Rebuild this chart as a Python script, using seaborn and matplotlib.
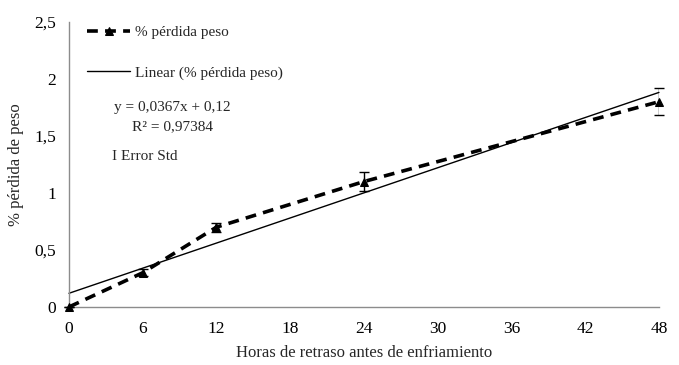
import matplotlib
matplotlib.use("Agg")
import matplotlib.pyplot as plt
import seaborn as sns
import numpy as np
import pandas as pd

hours = [0, 6, 12, 24, 48]
loss = [0.0, 0.30, 0.70, 1.10, 1.80]
err = [0.0, 0.03, 0.04, 0.08, 0.12]
slope, intercept = 0.0367, 0.12
trend_x = [0, 48]
xticks = [0, 6, 12, 18, 24, 30, 36, 42, 48]
yticks = [0, 0.5, 1, 1.5, 2, 2.5]
ytick_labels = ["0", "0,5", "1", "1,5", "2", "2,5"]

sns.set_theme(style="white")
plt.rcParams['font.family'] = ['Liberation Serif', 'DejaVu Serif']

fig = plt.figure(figsize=(6.79, 3.65), dpi=100)
ax = fig.add_axes([0.1016, 0.159, 0.8689, 0.781])

df = pd.DataFrame({"h": hours, "p": loss})
tr = pd.DataFrame({"h": trend_x, "p": [slope * x + intercept for x in trend_x]})

sns.lineplot(data=tr, x="h", y="p", ax=ax, color="black", lw=1.0,
             label="Linear (% pérdida peso)", zorder=2)
sns.lineplot(data=df, x="h", y="p", ax=ax, color="black", lw=2.6,
             linestyle=(0, (3, 2)), marker="^", markersize=6,
             markeredgecolor="black", label="% pérdida peso", zorder=3)
ax.errorbar(hours, loss, yerr=err, fmt="none", ecolor="black",
            elinewidth=1.0, capsize=3.5, capthick=1.0, zorder=4)

ax.set_xlim(0, 48)
ax.set_ylim(0, 2.5)
ax.set_xticks(xticks)
ax.set_xticklabels([str(x) for x in xticks], fontsize=12.5)
ax.set_yticks(yticks)
ax.set_yticklabels(ytick_labels, fontsize=12.5)
ax.set_xlabel("Horas de retraso antes de enfriamiento", fontsize=12, labelpad=6)
ax.set_ylabel("% pérdida de peso", fontsize=12, labelpad=8)

for s in ["top", "right"]:
    ax.spines[s].set_visible(False)
for s in ["left", "bottom"]:
    ax.spines[s].set_color("#8c8c8c")
    ax.spines[s].set_linewidth(1.0)
ax.tick_params(axis="both", direction="out", length=4, width=1.0,
               color="#8c8c8c", labelcolor="black", pad=5)
ax.tick_params(axis="x", pad=6)
for ln in ax.lines:
    ln.set_clip_on(False)

handles, labels = ax.get_legend_handles_labels()
order = [labels.index("% pérdida peso"), labels.index("Linear (% pérdida peso)")]
leg = ax.legend([handles[i] for i in order], [labels[i] for i in order],
                loc="upper left", bbox_to_anchor=(0.008, 1.035), frameon=False,
                fontsize=11, labelspacing=1.75, handlelength=2.8,
                handletextpad=0.3)

fig.text(172 / 679, 1 - 107 / 365, "y = 0,0367x + 0,12", fontsize=11,
         ha="center", va="center")
fig.text(172 / 679, 1 - 127 / 365, "R² = 0,97384", fontsize=11,
         ha="center", va="center")
fig.text(112 / 679, 1 - 157 / 365, "I Error Std", fontsize=11,
         ha="left", va="center")

fig.savefig("out.png", dpi=100)
